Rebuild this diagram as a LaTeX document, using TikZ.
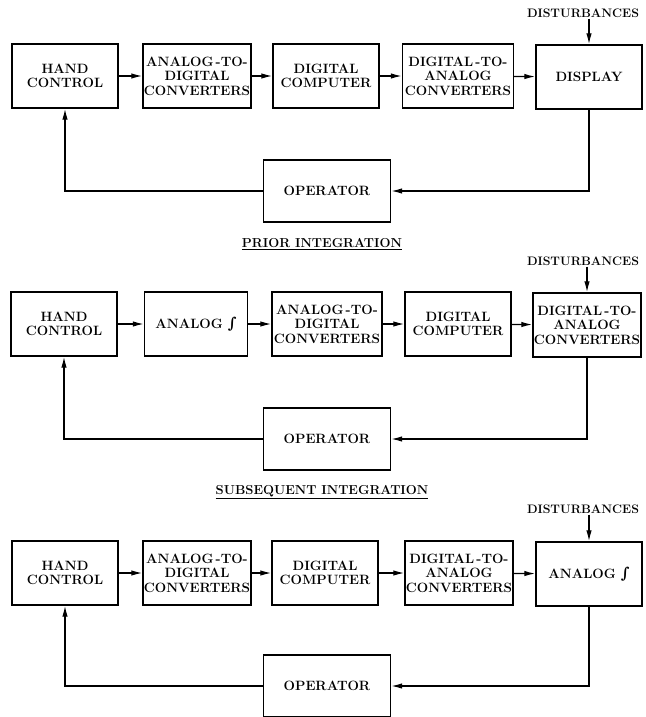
\documentclass[tikz,border=0pt]{standalone}
\usepackage{fontspec}
\usepackage{tikz}
\usetikzlibrary{arrows.meta}
\newfontfamily\intfont{DejaVu Serif}
\newcommand{\blkfont}{\fontsize{13.5}{14.5}\selectfont\bfseries}
\newcommand{\intsign}{{\intfont\bfseries\itshape\fontsize{15}{14}\selectfont ∫}}
\tikzset{%
  sigtip/.tip={Latex[length=11pt,width=5.5pt]},
  block/.style={draw, line width=1.4pt, minimum width=106pt, minimum height=64pt,
    inner sep=1pt, align=center, font=\blkfont},
  opbox/.style={block, minimum width=127pt, minimum height=62pt},
  flow/.style={line width=1.3pt, -sigtip},
  disttext/.style={font=\fontsize{12.3}{14}\selectfont\bfseries, inner sep=1pt},
  headtext/.style={font=\fontsize{13}{14}\selectfont\bfseries}
}

\begin{document}
\begin{tikzpicture}[x=1pt,y=-1pt]
	\useasboundingbox (0,0) rectangle (645,717);
	% first row
	\node[block] (hcA) at (65,76) {HAND\\CONTROL};
	\node[block] (adcA) at (197,76) {ANALOG\,-TO-\\DIGITAL\\CONVERTERS};
	\node[block] (dcA) at (326,76) {DIGITAL\\COMPUTER};
	\node[block, minimum width=111pt] (dacA) at (458,76) {DIGITAL\,-TO-\\ANALOG\\CONVERTERS};
	\node[block] (dispA) at (589,77) {DISPLAY};
	\node[opbox] (opA) at (327,191) {OPERATOR};
	\node[disttext] (distA) at (583,13) {DISTURBANCES};
	\draw[flow] (hcA) -- (adcA);
	\draw[flow] (adcA) -- (dcA);
	\draw[flow] (dcA) -- (dacA);
	\draw[flow] (dacA) -- (dispA);
	\draw[flow] (distA.south -| dispA.north) -- (dispA.north);
	\draw[flow] (dispA.south) |- (opA.east);
	\draw[flow] (opA.west) -| (hcA.south);
	\node[headtext] (priorT) at (322,244) {\underline{PRIOR INTEGRATION}};
	% second row
	\node[block] (hcB) at (64,324) {HAND\\CONTROL};
	\node[block, minimum width=103pt] (intB) at (196,324) {ANALOG \intsign};
	\node[block, minimum width=110pt] (adcB) at (327,324) {ANALOG\,-TO-\\DIGITAL\\CONVERTERS};
	\node[block] (dcB) at (458,324) {DIGITAL\\COMPUTER};
	\node[block, minimum width=108pt] (dacB) at (587,325) {DIGITAL\,-TO-\\ANALOG\\CONVERTERS};
	\node[opbox] (opB) at (327,439) {OPERATOR};
	\node[disttext] (distB) at (583,261) {DISTURBANCES};
	\draw[flow] (hcB) -- (intB);
	\draw[flow] (intB) -- (adcB);
	\draw[flow] (adcB) -- (dcB);
	\draw[flow] (dcB) -- (dacB);
	\draw[flow] (distB.south -| dacB.north) -- (dacB.north);
	\draw[flow] (dacB.south) |- (opB.east);
	\draw[flow] (opB.west) -| (hcB.south);
	\node[headtext] (subsT) at (322,492) {\underline{SUBSEQUENT INTEGRATION}};
	% third row
	\node[block] (hcC) at (65,573) {HAND\\CONTROL};
	\node[block] (adcC) at (197,573) {ANALOG\,-TO-\\DIGITAL\\CONVERTERS};
	\node[block] (dcC) at (325,573) {DIGITAL\\COMPUTER};
	\node[block, minimum width=108pt] (dacC) at (459,573) {DIGITAL\,-TO-\\ANALOG\\CONVERTERS};
	\node[block] (intC) at (589,574) {ANALOG \intsign};
	\node[opbox] (opC) at (327,686) {OPERATOR};
	\node[disttext] (distC) at (583,509) {DISTURBANCES};
	\draw[flow] (hcC) -- (adcC);
	\draw[flow] (adcC) -- (dcC);
	\draw[flow] (dcC) -- (dacC);
	\draw[flow] (dacC) -- (intC);
	\draw[flow] (distC.south -| intC.north) -- (intC.north);
	\draw[flow] (intC.south) |- (opC.east);
	\draw[flow] (opC.west) -| (hcC.south);
\end{tikzpicture}
\end{document}
